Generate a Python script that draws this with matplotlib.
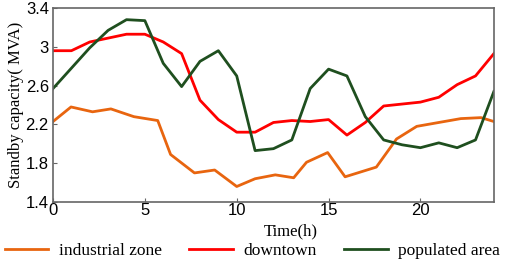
import matplotlib
matplotlib.use('Agg')
import matplotlib.pyplot as plt

# hours for red / green series
hours = list(range(25))

downtown = [2.96, 2.96, 3.05, 3.09, 3.13, 3.13, 3.05, 2.93, 2.45, 2.25, 2.12, 2.12, 2.22,
            2.24, 2.23, 2.25, 2.09, 2.22, 2.39, 2.41, 2.43, 2.48, 2.61, 2.70, 2.93]
populated = [2.57, 2.78, 2.99, 3.17, 3.28, 3.27, 2.83, 2.59, 2.85, 2.96, 2.70, 1.93, 1.95,
             2.04, 2.57, 2.77, 2.70, 2.28, 2.04, 1.99, 1.96, 2.01, 1.96, 2.04, 2.54]

# industrial zone vertices are not on whole hours in the picture
industrial_x = [0, 0.98, 2.15, 3.15, 4.4, 5.7, 6.4, 7.7, 8.8, 10, 11, 12.1, 13.1, 13.8,
                14.95, 15.9, 17.6, 18.7, 19.8, 22.2, 23.3, 24]
industrial = [2.23, 2.38, 2.33, 2.36, 2.28, 2.24, 1.89, 1.70, 1.73, 1.56, 1.64, 1.68, 1.65,
              1.81, 1.91, 1.66, 1.76, 2.05, 2.18, 2.26, 2.27, 2.23]

labels = ['industrial zone', 'downtown', 'populated area']
colors = ['#e8650f', '#ff0000', '#1f4f1f']

fig = plt.figure(figsize=(5.05, 2.59), dpi=100)
ax = fig.add_axes([0.105, 0.22, 0.873, 0.749])

ax.plot(industrial_x, industrial, color=colors[0], lw=2, label=labels[0])
ax.plot(hours, downtown, color=colors[1], lw=2, label=labels[1])
ax.plot(hours, populated, color=colors[2], lw=2, label=labels[2])

ax.set_xlim(0, 24)
ax.set_ylim(1.4, 3.4)
ax.set_xticks([0, 5, 10, 15, 20])
ax.set_yticks([1.4, 1.8, 2.2, 2.6, 3.0, 3.4])
ax.set_yticklabels(['1.4', '1.8', '2.2', '2.6', '3', '3.4'])
ax.tick_params(direction='in', length=3, width=0.8, color='#666666', labelsize=12, pad=1)
ax.tick_params(axis='y', pad=3)
for lab in ax.get_xticklabels() + ax.get_yticklabels():
    lab.set_family('Liberation Sans')
for s in ax.spines.values():
    s.set_color('#666666')
    s.set_linewidth(1.2)

ax.set_xlabel('Time(h)', family='Liberation Serif', fontsize=12)
ax.xaxis.set_label_coords(0.54, -0.11)
ax.set_ylabel('Standby capacity( MVA)', family='Liberation Serif', fontsize=12, labelpad=1)

fig.legend(loc='lower center', bbox_to_anchor=(0.5, -0.06), ncol=3, frameon=False,
           prop={'family': 'Liberation Serif', 'size': 12.5}, handlelength=2.5,
           handletextpad=0.6, columnspacing=1.6)

fig.savefig('out.png', dpi=100)
